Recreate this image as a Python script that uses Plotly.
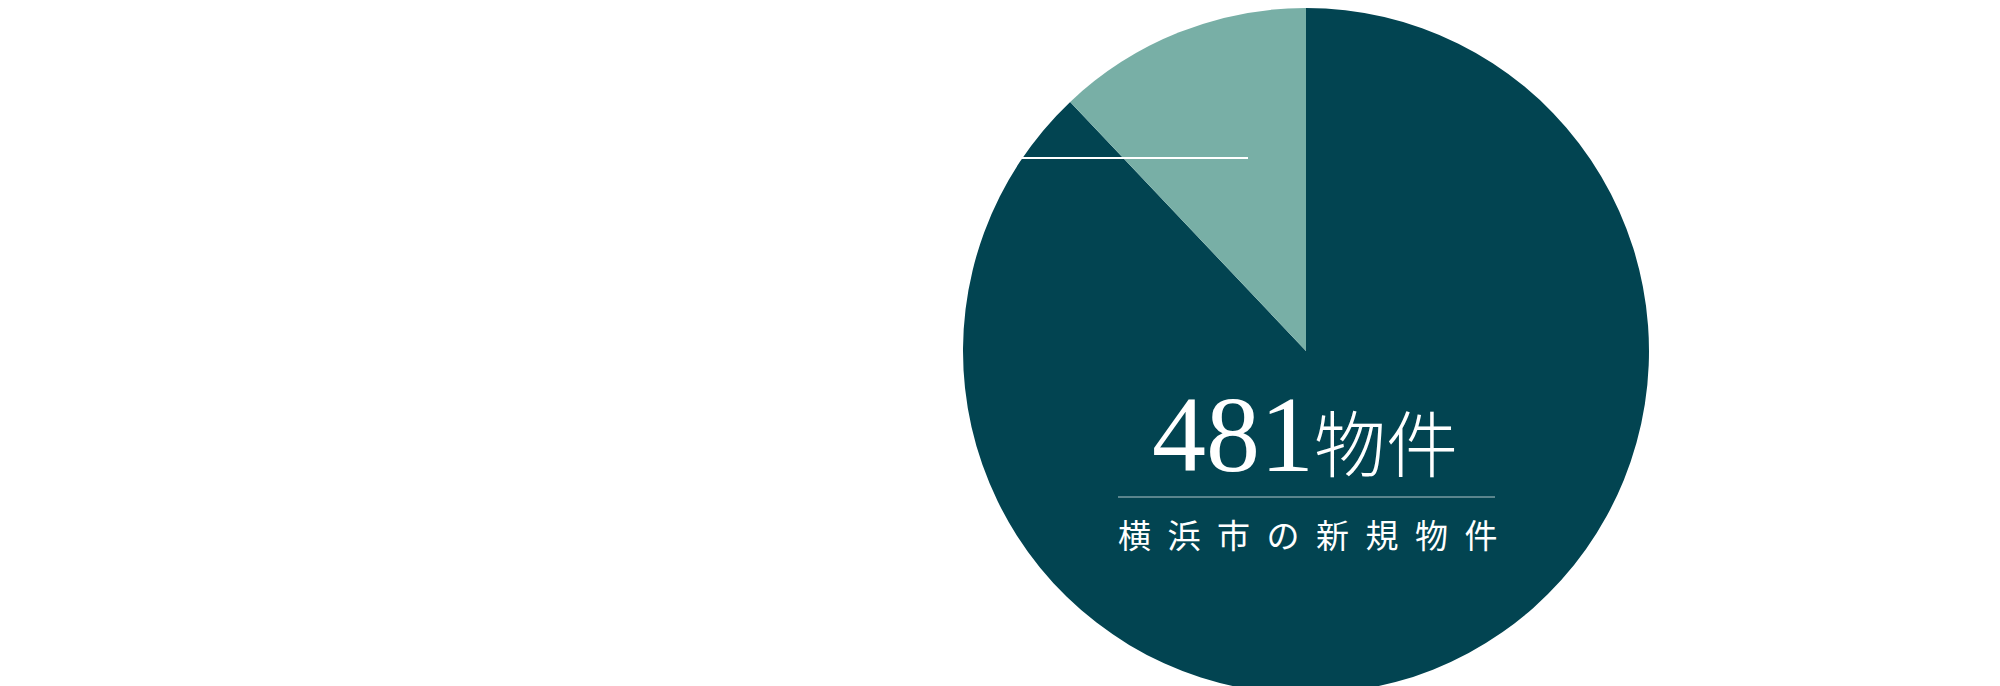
import plotly.graph_objects as go

# data
labels = ['横浜市の新規物件', 'その他']
values = [481, 66]
colors = ['#024451', '#78afa6']

count_label = '481'
unit_label = '物件'
sub_label = '横浜市の新規物件'

W, H = 2000, 686

fig = go.Figure()
# clockwise from 12 o'clock: big slice first, small slice ends back at the top
fig.add_trace(go.Pie(
    labels=labels, values=values, sort=False, direction='clockwise',
    rotation=0, marker=dict(colors=colors, line=dict(width=0)),
    textinfo='none', hoverinfo='label+value', showlegend=False,
    domain=dict(x=[955 / W, 1641 / W], y=[0, 1]),
))

# big number + unit
fig.add_annotation(
    x=1297 / W, y=1 - 426 / H, xref='paper', yref='paper', showarrow=False,
    text=(f'<span style="font-family:Liberation Serif;font-size:108px">{count_label}</span>'
          f'<span style="font-family:Noto Sans CJK JP;font-size:72px;font-weight:300">{unit_label}</span>'),
    font=dict(color='white'), xanchor='center', yanchor='middle',
)
# subtitle with wide letter spacing
fig.add_annotation(
    x=1300 / W, y=1 - 526 / H, xref='paper', yref='paper', showarrow=False,
    text='\u2002'.join(sub_label),
    font=dict(family='Noto Sans CJK JP', size=33, color='white'),
    xanchor='center', yanchor='middle',
)

# divider under the number
fig.add_shape(type='line', xref='paper', yref='paper',
              x0=1110 / W, x1=1487 / W, y0=1 - 489 / H, y1=1 - 489 / H,
              line=dict(color='rgba(255,255,255,0.7)', width=1))
# white guide line crossing the small slice
fig.add_shape(type='line', xref='paper', yref='paper',
              x0=900 / W, x1=1240 / W, y0=1 - 150 / H, y1=1 - 150 / H,
              line=dict(color='white', width=2))

fig.update_layout(
    width=W, height=H, margin=dict(l=0, r=0, t=0, b=0),
    paper_bgcolor='white', plot_bgcolor='white',
)

fig.write_html('out.html')
